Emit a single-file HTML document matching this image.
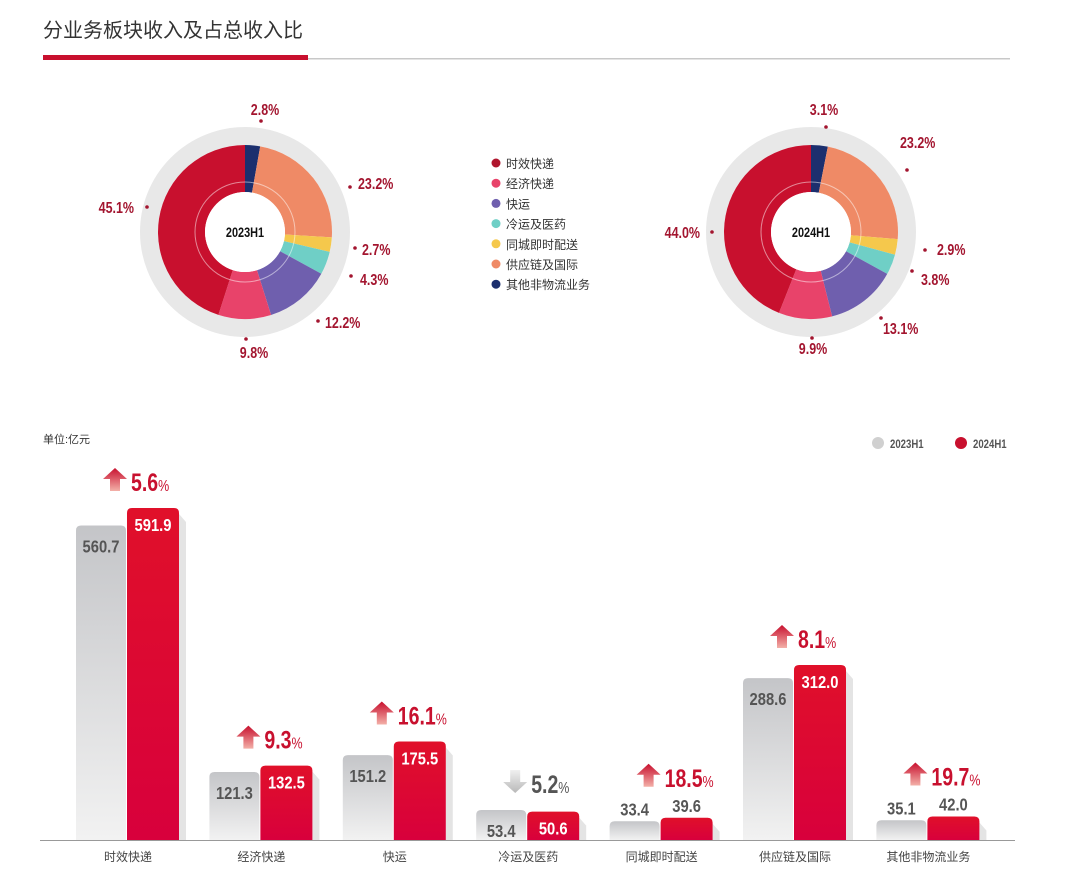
<!DOCTYPE html>
<html><head><meta charset="utf-8">
<style>
body{margin:0;background:#fff;width:1080px;height:893px;overflow:hidden}
svg{display:block}
.cn{font-family:"Liberation Sans","Noto Sans CJK SC",sans-serif}
.num{font-family:"Liberation Sans Narrow","Liberation Sans",sans-serif;font-weight:bold}
</style></head>
<body>
<svg id="s" width="1080" height="893" xmlns="http://www.w3.org/2000/svg">
<defs>
<linearGradient id="gg" x1="0" y1="0" x2="0" y2="1"><stop offset="0" stop-color="#c4c5c8"/><stop offset="1" stop-color="#f2f2f2"/></linearGradient>
<linearGradient id="rg" x1="0" y1="0" x2="0" y2="1"><stop offset="0" stop-color="#e0102a"/><stop offset="1" stop-color="#d8003c"/></linearGradient>
<linearGradient id="ag" x1="0" y1="0" x2="0" y2="1"><stop offset="0" stop-color="#c8102e"/><stop offset="1" stop-color="#f3b0a8"/></linearGradient>
<linearGradient id="dg" x1="0" y1="0" x2="0" y2="1"><stop offset="0" stop-color="#f0f0f0"/><stop offset="1" stop-color="#b8b8b8"/></linearGradient>
</defs>
<text class="cn" x="43" y="37" font-size="20" fill="#333">分业务板块收入及占总收入比</text>
<rect x="43" y="55" width="265" height="5" fill="#c8102e"/>
<rect x="308" y="58" width="702" height="1.5" fill="#c8c8c8"/>
</svg>
<script>
const NS="http://www.w3.org/2000/svg";
const svg=document.getElementById('s');
function el(t,a,txt,par){const e=document.createElementNS(NS,t);for(const k in a)e.setAttribute(k,a[k]);if(txt!==undefined)e.textContent=txt;(par||svg).appendChild(e);return e;}
function ntext(x,y,a,txt,sx){const g=el('g',{transform:`translate(${x},${y}) scale(${sx||0.82},1)`});a.x=0;a.y=0;a['class']='num';return el('text',a,txt,g);}
const cols=["#1c2f6e","#ef8a66","#f5c84c","#6fcfc6","#6f5fae","#e8436a","#c8102e"];
function donut(cx,cy,vals,label,labels){
  el('circle',{cx,cy,r:96,fill:"none",stroke:"#e8e8e8","stroke-width":18});
  let tot=vals.reduce((a,b)=>a+b,0),a0=0;
  const R=87,r=40;
  vals.forEach((v,i)=>{
    const a1=a0+v/tot*2*Math.PI;
    const p=(rad,a)=>[cx+rad*Math.sin(a),cy-rad*Math.cos(a)];
    const [x1,y1]=p(R,a0),[x2,y2]=p(R,a1),[x3,y3]=p(r,a1),[x4,y4]=p(r,a0);
    const lg=(a1-a0)>Math.PI?1:0;
    el('path',{d:`M${x1},${y1}A${R},${R} 0 ${lg} 1 ${x2},${y2}L${x3},${y3}A${r},${r} 0 ${lg} 0 ${x4},${y4}Z`,fill:cols[i]});
    a0=a1;
  });
  el('circle',{cx,cy,r:50,fill:"none",stroke:"rgba(255,255,255,0.5)","stroke-width":1});
  el('circle',{cx,cy,r:40,fill:"#fff"});
  ntext(cx,cy+5,{"text-anchor":"middle","font-size":14,fill:"#111"},label,0.78);
  labels.forEach(l=>{
    el('circle',{cx:l[2],cy:l[3],r:1.8,fill:"#a3152f"});
    ntext(l[0],l[1],{"font-size":16,fill:"#a3152f","text-anchor":l[4]||"start"},l[5],0.78);
  });
}
donut(245,232,[2.8,23.2,2.7,4.3,12.2,9.8,45.1],"2023H1",[
 [265,115,261,121,"middle","2.8%"],[358,189,350,187,"start","23.2%"],[362,255,355,248,"start","2.7%"],[360,285,351,276,"start","4.3%"],[325,328,318,321,"start","12.2%"],[254,358,246,339,"middle","9.8%"],[134,213,147,207,"end","45.1%"]]);
donut(811,232,[3.1,23.2,2.9,3.8,13.1,9.9,44.0],"2024H1",[
 [824,115,826,127,"middle","3.1%"],[900,148,907,170,"start","23.2%"],[937,255,925,250,"start","2.9%"],[921,285,912,271,"start","3.8%"],[883,334,881,318,"start","13.1%"],[813,354,812,338,"middle","9.9%"],[700,238,712,232,"end","44.0%"]]);
const ln=["时效快递","经济快递","快运","冷运及医药","同城即时配送","供应链及国际","其他非物流业务"];
const lc=["#b0162e","#e8436a","#6f5fae","#6fcfc6","#f5c84c","#ef8a66","#1c2f6e"];
ln.forEach((n,i)=>{el('circle',{cx:496,cy:163+i*20.2,r:4.5,fill:lc[i]});el('text',{x:506,y:168+i*20.2,"class":"cn","font-size":12,fill:"#333"},n);});
el('text',{x:43,y:443,"class":"cn","font-size":11,fill:"#333"},"单位:亿元");
el('circle',{cx:878,cy:443,r:6,fill:"#d0d0d0"});ntext(890,448,{"font-size":12,fill:"#555"},"2023H1",0.8);
el('circle',{cx:961,cy:443,r:6,fill:"#c8102e"});ntext(973,448,{"font-size":12,fill:"#555"},"2024H1",0.8);
const data=[[560.7,591.9,"5.6",1],[121.3,132.5,"9.3",1],[151.2,175.5,"16.1",1],[53.4,50.6,"5.2",0],[33.4,39.6,"18.5",1],[288.6,312.0,"8.1",1],[35.1,42.0,"19.7",1]];
const base=840,k=0.561;
data.forEach((d,i)=>{
  const c=128+i*133.4;
  const hg=d[0]*k,hr=d[1]*k,tg=base-hg,tr=base-hr;
  el('path',{d:`M${c+51},${tr+6}L${c+58},${tr+14}L${c+58},${base}L${c+51},${base}Z`,fill:"#e4e4e4"});
  el('path',{d:`M${c-52},${base}V${tg+5}Q${c-52},${tg} ${c-47},${tg}H${c-7}Q${c-2},${tg} ${c-2},${tg+5}V${base}Z`,fill:"url(#gg)"});
  el('path',{d:`M${c-1},${base}V${tr+5}Q${c-1},${tr} ${c+4},${tr}H${c+46}Q${c+51},${tr} ${c+51},${tr+5}V${base}Z`,fill:"url(#rg)"});
  const small=hg<25;
  ntext(c-27,small?tg-6:tg+27,{"text-anchor":"middle","font-size":18,fill:"#555"},d[0].toFixed(1));
  ntext(c+25,(hr<25)?tr-6:tr+23,{"text-anchor":"middle","font-size":18,fill:(hr<25)?"#555":"#fff"},d[1].toFixed(1));
  const ty=Math.min(tg,tr)-(small?34:20);
  const ax=c-13;
  if(d[3]) el('path',{d:`M${ax},${ty-20}L${ax+12},${ty-9}L${ax+5},${ty-9}L${ax+5},${ty+3}L${ax-5},${ty+3}L${ax-5},${ty-9}L${ax-12},${ty-9}Z`,fill:"url(#ag)"});
  else el('path',{d:`M${ax-5},${ty-20}L${ax+5},${ty-20}L${ax+5},${ty-8}L${ax+12},${ty-8}L${ax},${ty+3}L${ax-12},${ty-8}L${ax-5},${ty-8}Z`,fill:"url(#dg)"});
  const t=ntext(c+3,ty+3,{"font-size":25,fill:d[3]?"#c8102e":"#555"},d[2],0.78);
  const ts=document.createElementNS(NS,'tspan');ts.setAttribute('font-size','16');ts.setAttribute('font-weight','normal');ts.textContent="%";t.appendChild(ts);
  el('text',{x:c,y:861,"text-anchor":"middle","class":"cn","font-size":12,fill:"#444"},ln[i]);
});
el('rect',{x:40,y:840,width:975,height:1,fill:"#999"});
</script>
</body></html>
